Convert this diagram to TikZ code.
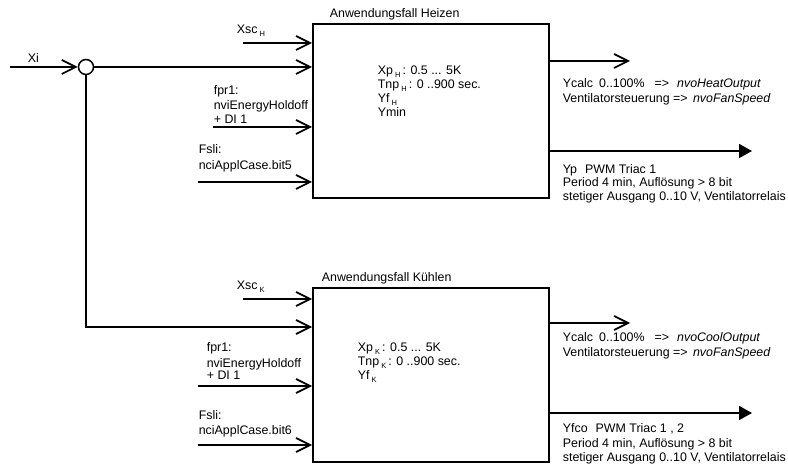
\documentclass[tikz,border=0pt]{standalone}
\usepackage{fontspec}
\setmainfont{Liberation Sans}
\usetikzlibrary{arrows.meta}
\newcommand\lowsub[1]{\,\raisebox{-3pt}{\fontsize{7.5}{8}\selectfont #1}}
\begin{document}
\begin{tikzpicture}[x=1pt,y=-1pt,
  line width=1.7pt,
  font=\fontsize{12.4}{15}\selectfont,
  blockbox/.style={draw, minimum width=236pt, minimum height=174pt, anchor=north west, inner sep=0pt},
  txt/.style={anchor=base west, inner sep=0pt},
  inarrow/.style={-{Straight Barb[length=14pt,width=14pt,line width=1.7pt]}},
  outopen/.style={-{Straight Barb[length=14pt,width=14pt,line width=1.7pt]}},
  outfilled/.style={-{Triangle[length=13pt,width=14pt]}}]
\useasboundingbox (0,0) rectangle (788,465);

% control blocks
\node[blockbox] (heat) at (312,23) {};
\node[blockbox] (cool) at (312,287) {};
\node[txt] (heattitle) at (329,18) {Anwendungsfall Heizen};
\node[txt] (cooltitle) at (321,282) {Anwendungsfall Kühlen};

% summing point and actual value
\node[draw, circle, minimum size=15pt, inner sep=0pt, line width=1.5pt] (sum) at (86,67) {};
\coordinate (xistart) at (10,67);
\coordinate (corner) at (86,327);
\draw[inarrow] (xistart) -- (sum.west);
\node[txt] (xilabel) at (27,63) {Xi};
\draw[inarrow] (sum.east) -- (sum.east -| heat.west);
\draw[inarrow] (sum.south) -- (corner) -- (corner -| cool.west);

% inputs, heating
\coordinate (xsch) at (243,43);
\coordinate (fprh) at (213,127);
\coordinate (fslih) at (198,182);
\draw[inarrow] (xsch) -- (xsch -| heat.west);
\draw[inarrow] (fprh) -- (fprh -| heat.west);
\draw[inarrow] (fslih) -- (fslih -| heat.west);
\node[txt] (xschlabel) at (236,34) {Xsc\lowsub{H}};
\node[txt] (fprh1) at (213,95) {fpr1:};
\node[txt] (fprh2) at (213,110) {nviEnergyHoldoff};
\node[txt] (fprh3) at (213,124) {+ DI 1};
\node[txt] (fslih1) at (198,154) {Fsli:};
\node[txt] (fslih2) at (198,170) {nciApplCase.bit5};

% inputs, cooling
\coordinate (xsck) at (243,299);
\coordinate (fprk) at (198,386);
\coordinate (fslik) at (198,445);
\draw[inarrow] (xsck) -- (xsck -| cool.west);
\draw[inarrow] (fprk) -- (fprk -| cool.west);
\draw[inarrow] (fslik) -- (fslik -| cool.west);
\node[txt] (xscklabel) at (236,290) {Xsc\lowsub{K}};
\node[txt] (fprk1) at (206,352) {fpr1:};
\node[txt] (fprk2) at (206,367) {nviEnergyHoldoff};
\node[txt] (fprk3) at (206,380) {+ DI 1};
\node[txt] (fslik1) at (198,419) {Fsli:};
\node[txt] (fslik2) at (198,434) {nciApplCase.bit6};

% parameters inside the blocks
\node[txt] (hp1) at (377,75) {Xp\lowsub{H}\,: 0.5 ... 5K};
\node[txt] (hp2) at (377,89) {Tnp\lowsub{H}\,: 0 ..900 sec.};
\node[txt] (hp3) at (377,103) {Yf\lowsub{H}};
\node[txt] (hp4) at (377,117) {Ymin};
\node[txt] (kp1) at (357,352) {Xp\lowsub{K}\,: 0.5 ... 5K};
\node[txt] (kp2) at (357,366) {Tnp\lowsub{K}\,: 0 ..900 sec.};
\node[txt] (kp3) at (357,380) {Yf\lowsub{K}};

% outputs, heating
\coordinate (hcalc) at (630,61);
\coordinate (hyp) at (752,151);
\draw[outopen] (heat.east |- hcalc) -- (hcalc);
\draw[outfilled] (heat.east |- hyp) -- (hyp);
\node[txt] (hout1) at (562,88) {Ycalc\hspace{6pt}0..100\%\hspace{10pt}=>\hspace{8pt}\textit{nvoHeatOutput}};
\node[txt] (hout2) at (562,103) {Ventilatorsteuerung => \hspace{2pt}\textit{nvoFanSpeed}};
\node[txt] (hout3) at (562,174) {Yp\hspace{8pt}PWM Triac 1};
\node[txt] (hout4) at (562,187) {Period 4 min, Auflösung > 8 bit};
\node[txt] (hout5) at (562,201) {stetiger Ausgang 0..10 V, Ventilatorrelais};

% outputs, cooling
\coordinate (kcalc) at (630,323);
\coordinate (kyf) at (752,413);
\draw[outopen] (cool.east |- kcalc) -- (kcalc);
\draw[outfilled] (cool.east |- kyf) -- (kyf);
\node[txt] (kout1) at (562,342) {Ycalc\hspace{6pt}0..100\%\hspace{10pt}=>\hspace{8pt}\textit{nvoCoolOutput}};
\node[txt] (kout2) at (562,356) {Ventilatorsteuerung => \hspace{2pt}\textit{nvoFanSpeed}};
\node[txt] (kout3) at (562,432) {Yfco\hspace{8pt}PWM Triac 1 , 2};
\node[txt] (kout4) at (562,447) {Period 4 min, Auflösung > 8 bit};
\node[txt] (kout5) at (562,461) {stetiger Ausgang 0..10 V, Ventilatorrelais};
\end{tikzpicture}
\end{document}
